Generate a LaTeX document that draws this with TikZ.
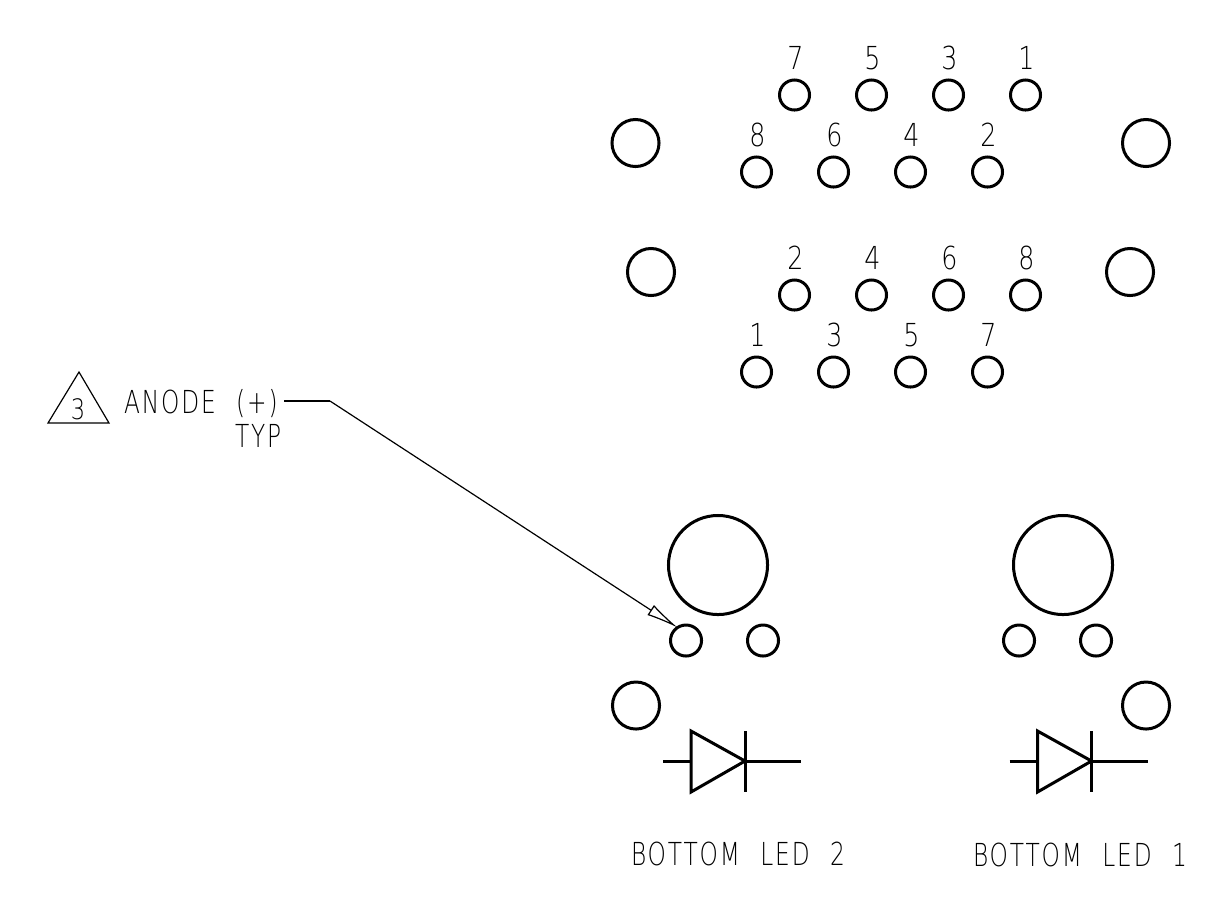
\documentclass[tikz,border=0pt]{standalone}
\usepackage{fontspec}
\setmainfont{DejaVu Sans ExtraLight}
\newfontfamily\cadfont[LetterSpace=8,WordSpace=2.2]{DejaVu Sans ExtraLight}
\usetikzlibrary{arrows.meta}
\tikzset{
    pin/.style={circle, draw, line width=0.03cm, inner sep=0pt, outer sep=0pt, minimum size=0.30cm},
    hole/.style={pin, minimum size=0.47cm},
    lens/.style={pin, minimum size=0.99cm},
    symline/.style={line width=0.03cm},
    thinline/.style={line width=0.012cm},
    lbl/.style={inner sep=0pt, outer sep=0pt, anchor=base, font=\fontsize{9}{9}\selectfont, xscale=0.8},
    wide/.style={lbl, anchor=base west, xscale=0.92, font=\fontsize{9}{9}\cadfont}
}
\begin{document}
\begin{tikzpicture}[x=0.01cm, y=-0.01cm]
    \useasboundingbox (0,0) rectangle (1207,899);

    % Conector superior
    \node[hole] (holeTL) at (635.5,143) {};
    \node[hole] (holeTR) at (1146,143) {};
    \foreach \x/\n in {794.5/7,871.5/5,948.5/3,1025.5/1} {
        \node[pin] (pinT\n) at (\x,95) {};
        \node[lbl] (lblT\n) at (\x+1,69) {\n};
    }
    \foreach \x/\n in {756.5/8,833.5/6,910.5/4,987.5/2} {
        \node[pin] (pinT\n) at (\x,172) {};
        \node[lbl] (lblT\n) at (\x+1,146) {\n};
    }

    % Conector inferior
    \node[hole] (holeBL) at (651,272) {};
    \node[hole] (holeBR) at (1130,272) {};
    \foreach \x/\n in {794.5/2,871.5/4,948.5/6,1025.5/8} {
        \node[pin] (pinB\n) at (\x,295) {};
        \node[lbl] (lblB\n) at (\x+1,269) {\n};
    }
    \foreach \x/\n in {756.5/1,833.5/3,910.5/5,987.5/7} {
        \node[pin] (pinB\n) at (\x,372) {};
        \node[lbl] (lblB\n) at (\x+1,346) {\n};
    }

    % LED 2
    \node[lens] (lensA) at (718,565) {};
    \node[pin, minimum size=0.31cm] (anodeA) at (686,640.5) {};
    \node[pin, minimum size=0.31cm] (cathodeA) at (763,640.5) {};
    \node[hole] (holeA) at (636,705.5) {};

    % LED 1
    \node[lens] (lensB) at (1063,565) {};
    \node[pin, minimum size=0.31cm] (anodeB) at (1019,640.5) {};
    \node[pin, minimum size=0.31cm] (cathodeB) at (1096,640.5) {};
    \node[hole] (holeB) at (1146,705.5) {};

    % Diodos
    \foreach \x in {0,346.5} {
        \draw[symline] (663+\x,761) -- (691+\x,761);
        \draw[symline, line join=miter] (691+\x,731) -- (691+\x,792) -- (745+\x,761) -- cycle;
        \draw[symline] (745+\x,731) -- (745+\x,792);
        \draw[symline] (745+\x,761) -- (801+\x,761);
    }

    % Nota de anodo
    \draw[thinline] (48,423) -- (79,372) -- (109,423) -- cycle;
    \node[lbl, font=\fontsize{8}{8}\selectfont] (note) at (78,419) {3};
    \node[wide] (anodeTxt) at (124,413) {ANODE (+)};
    \node[wide] (typTxt) at (235,447) {TYP};
    \coordinate (bend) at (330,401);
    \draw[thinline] (284,401) -- (bend);
    \draw[thinline, -{Latex[open, length=0.32cm, width=0.12cm]}] (bend) -- (anodeA.123);

    % Titulos
    \node[wide] (titleA) at (631,865) {BOTTOM LED 2};
    \node[wide] (titleB) at (973,866) {BOTTOM LED 1};
\end{tikzpicture}
\end{document}
